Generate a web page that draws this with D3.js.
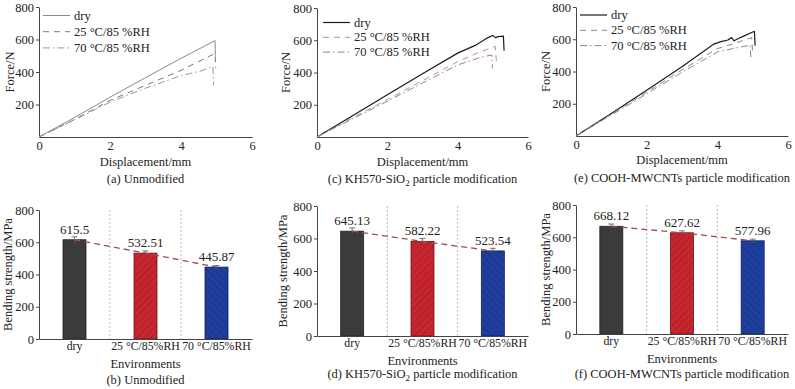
<!DOCTYPE html>
<html><head><meta charset="utf-8">
<script src="https://cdn.jsdelivr.net/npm/d3@7"></script>
<style>
body{margin:0;background:#fff;}
text{font-family:"Liberation Serif","Times New Roman",serif;fill:#222;}
</style></head>
<body><svg id="c" width="795" height="389"></svg>
<script>
// ---------- data ----------
const seriesNames = ["dry", "25 °C/85 %RH", "70 °C/85 %RH"];
const xTicks = [0, 2, 4, 6];
const yTicksLine = [200, 400, 600, 800];
const yTicksBar = [0, 200, 400, 600, 800];

// (a) Unmodified force-displacement [mm, N]
const aDry = [[0,0],[1,120],[2,245],[3,365],[4,484],[4.96,593],[4.97,500]];
const a25  = [[0,0],[1,108],[2,225],[3,318],[4,410],[4.96,515],[4.98,423]];
const a70  = [[0,0],[1,105],[2,215],[3,300],[4,378],[4.54,405],[4.9,433],[4.92,320]];
// (c) KH570-SiO2
const cDry = [[0,0],[1,130],[2,262],[3,392],[4,520],[4.5,568],[4.85,615],[5.0,630],[5.08,615],[5.15,622],[5.3,625],[5.32,535]];
const c25  = [[0,0],[1,118],[2,232],[3,350],[4,467],[4.6,525],[5.07,562],[5.1,470]];
const c70  = [[0,0],[1,112],[2,222],[3,335],[4,447],[4.6,490],[4.97,509],[4.99,426]];
// (e) COOH-MWCNTs
const eDry = [[0,0],[1,140],[2,283],[3,430],[3.9,570],[4.1,585],[4.3,595],[4.4,610],[4.47,590],[4.7,615],[5.0,645],[5.05,648],[5.07,560]];
const e25  = [[0,0],[1,135],[2,272],[3,410],[4,542],[4.5,575],[4.97,610],[5.0,520]];
const e70  = [[0,0],[1,130],[2,262],[3,395],[4,521],[4.5,545],[4.93,563],[4.95,480]];

// bending strength [MPa]
const envs = ["dry", "25 °C/85%RH", "70 °C/85%RH"];
const bVals = [615.5, 532.51, 445.87];
const dVals = [645.13, 582.22, 523.54];
const fVals = [668.12, 627.62, 577.96];
const bErr = [18, 14, 10];
const dErr = [20, 18, 16];
const fErr = [14, 12, 10];

// ---------- drawing ----------
const svg = d3.select("#c");
const FS = 12.5;
const defs = svg.append("defs");
function hatch(id, bg, fg, ang){
  const p = defs.append("pattern").attr("id", id).attr("patternUnits","userSpaceOnUse")
    .attr("width", 5).attr("height", 5).attr("patternTransform", `rotate(${ang})`);
  p.append("rect").attr("width",5).attr("height",5).attr("fill",bg);
  p.append("line").attr("x1",0).attr("y1",0).attr("x2",0).attr("y2",5).attr("stroke",fg).attr("stroke-width",1);
}
hatch("hRed", "#c8262f", "#8a1a20", 45);
hatch("hBlue", "#1f3f9e", "#132a70", -45);

function axisStyle(g, fs){
  g.selectAll("path,line").attr("stroke","#444").attr("stroke-width",1);
  g.selectAll("text").attr("font-size",fs||FS).attr("fill","#222").style("font-family",'"Liberation Serif",serif');
}

function linePanel(cfg){
  const x = d3.scaleLinear().domain([0,6]).range([cfg.x0, cfg.x1]);
  const y = d3.scaleLinear().domain([0,800]).range([cfg.y0, cfg.y1]);
  const gx = svg.append("g").attr("transform",`translate(0,${cfg.y0})`)
    .call(d3.axisBottom(x).tickValues(xTicks).tickFormat(d3.format("d")).tickSize(0).tickPadding(4));
  axisStyle(gx);
  const gy = svg.append("g").attr("transform",`translate(${cfg.x0},0)`)
    .call(d3.axisLeft(y).tickValues(yTicksLine).tickFormat(d3.format("d")).tickSizeInner(3).tickSizeOuter(0).tickPadding(2));
  axisStyle(gy);
  const line = d3.line().x(d=>x(d[0])).y(d=>y(d[1]));
  cfg.series.forEach((s,i)=>{
    svg.append("path").datum(s.data).attr("d",line).attr("fill","none")
      .attr("stroke",s.color).attr("stroke-width",s.w).attr("stroke-dasharray",s.dash);
    const ly = cfg.legY + i*cfg.legDy;
    svg.append("line").attr("x1",cfg.legX).attr("x2",cfg.legX+27).attr("y1",ly).attr("y2",ly)
      .attr("stroke",s.color).attr("stroke-width",s.w).attr("stroke-dasharray",s.dash);
    svg.append("text").attr("x",cfg.legX+31).attr("y",ly+4).attr("font-size",FS).text(seriesNames[i]);
  });
  svg.append("text").attr("transform",`translate(${cfg.ytX},${(cfg.y0+cfg.y1)/2}) rotate(-90)`)
    .attr("text-anchor","middle").attr("dy","0.35em").attr("font-size",FS).text("Force/N");
  svg.append("text").attr("x",(cfg.x0+cfg.x1)/2).attr("y",cfg.xtY).attr("text-anchor","middle")
    .attr("font-size",FS).text("Displacement/mm");
  const cap = svg.append("text").attr("x",(cfg.x0+cfg.x1)/2).attr("y",cfg.capY).attr("text-anchor","middle").attr("font-size",FS);
  cfg.caption(cap);
}

function barPanel(cfg){
  const x = d3.scaleBand().domain(envs).range([cfg.x0, cfg.x1]).padding(0);
  const y = d3.scaleLinear().domain([0,800]).range([cfg.y0, cfg.y1]);
  const bw = 23;
  [1,2].forEach(k=>{
    svg.append("line").attr("x1",x(envs[k])).attr("x2",x(envs[k])).attr("y1",y(800)).attr("y2",y(0))
      .attr("stroke","#aaa").attr("stroke-width",0.8).attr("stroke-dasharray","2,2");
  });
  const fills = ["#3b3b3b","url(#hRed)","url(#hBlue)"];
  const strokes = ["#222","#6d1015","#0e1f55"];
  cfg.vals.forEach((v,i)=>{
    const cx = x(envs[i]) + x.bandwidth()/2;
    svg.append("rect").attr("x",cx-bw/2).attr("y",y(v)).attr("width",bw).attr("height",y(0)-y(v))
      .attr("fill",fills[i]).attr("stroke",strokes[i]).attr("stroke-width",0.8);
    const e = cfg.err[i];
    svg.append("line").attr("x1",cx).attr("x2",cx).attr("y1",y(v+e)).attr("y2",y(v-e)).attr("stroke","#555").attr("stroke-width",0.8);
    svg.append("line").attr("x1",cx-3).attr("x2",cx+3).attr("y1",y(v+e)).attr("y2",y(v+e)).attr("stroke","#555").attr("stroke-width",0.8);
    svg.append("text").attr("x",cx).attr("y",y(v)-6).attr("text-anchor","middle").attr("font-size",13).text(v);
  });
  const tl = d3.line().x((d,i)=>x(envs[i])+x.bandwidth()/2).y(d=>y(d));
  svg.append("path").datum(cfg.vals).attr("d",tl).attr("fill","none").attr("stroke","#a24b57")
    .attr("stroke-width",1.3).attr("stroke-dasharray","6,4");
  const gx = svg.append("g").attr("transform",`translate(0,${cfg.y0})`)
    .call(d3.axisBottom(x).tickSize(0).tickPadding(3));
  axisStyle(gx, 11.8);
  const gy = svg.append("g").attr("transform",`translate(${cfg.x0},0)`)
    .call(d3.axisLeft(y).tickValues(yTicksBar).tickSizeInner(3).tickSizeOuter(0).tickPadding(2));
  axisStyle(gy);
  svg.append("text").attr("transform",`translate(${cfg.ytX},${(cfg.y0+cfg.y1)/2}) rotate(-90)`)
    .attr("text-anchor","middle").attr("dy","0.35em").attr("font-size",FS).text("Bending strength/MPa");
  svg.append("text").attr("x",(cfg.x0+cfg.x1)/2).attr("y",cfg.xtY).attr("text-anchor","middle")
    .attr("font-size",FS).text("Environments");
  const cap = svg.append("text").attr("x",(cfg.x0+cfg.x1)/2).attr("y",cfg.capY).attr("text-anchor","middle").attr("font-size",FS);
  cfg.caption(cap);
}

function sub(t, a, b, c){ t.append("tspan").text(a); t.append("tspan").attr("font-size",9).attr("dy",3).text(b); t.append("tspan").attr("dy",-3).text(c); }

const dashS = "6,5", dashDot = "7,3,1.5,3";
linePanel({x0:39,x1:252,y0:137,y1:7,ytX:10,xtY:166,capY:183,legX:43,legY:15.5,legDy:16.2,
  series:[{data:aDry,color:"#8a8a8a",w:1,dash:null},{data:a25,color:"#777",w:1,dash:dashS},{data:a70,color:"#9a9a9a",w:1,dash:dashDot}],
  caption:t=>t.text("(a) Unmodified")});
linePanel({x0:317,x1:528,y0:137,y1:8,ytX:286,xtY:166,capY:183,legX:323,legY:22.5,legDy:14.8,
  series:[{data:cDry,color:"#1a1a1a",w:1.2,dash:null},{data:c25,color:"#c88a8a",w:1,dash:dashS},{data:c70,color:"#888",w:1,dash:dashDot}],
  caption:t=>sub(t,"(c) KH570-SiO","2"," particle modification")});
linePanel({x0:576,x1:788,y0:136,y1:7,ytX:546,xtY:164,capY:182,legX:580,legY:15,legDy:15.3,
  series:[{data:eDry,color:"#1a1a1a",w:1.2,dash:null},{data:e25,color:"#888",w:1,dash:dashS},{data:e70,color:"#888",w:1,dash:dashDot}],
  caption:t=>t.text("(e) COOH-MWCNTs particle modification")});

barPanel({x0:39,x1:252,y0:339,y1:210,vals:bVals,err:bErr,ytX:8,xtY:368,capY:384,caption:t=>t.text("(b) Unmodified")});
barPanel({x0:317,x1:528,y0:336,y1:206,vals:dVals,err:dErr,ytX:283,xtY:365,capY:378,caption:t=>sub(t,"(d) KH570-SiO","2"," particle modification")});
barPanel({x0:576,x1:788,y0:334,y1:205,vals:fVals,err:fErr,ytX:546,xtY:363,capY:378,caption:t=>t.text("(f) COOH-MWCNTs particle modification")});
</script></body></html>
